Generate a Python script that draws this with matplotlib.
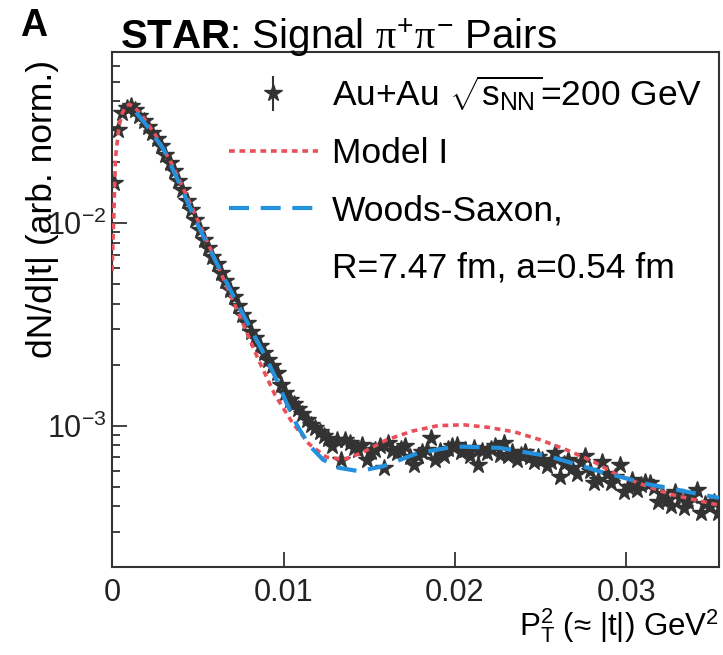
import numpy as np
import matplotlib
matplotlib.use("Agg")
import matplotlib.pyplot as plt
from matplotlib.ticker import FixedLocator, LogLocator, NullFormatter, FuncFormatter
from matplotlib.lines import Line2D

plt.rcParams['font.family'] = ['Liberation Sans', 'DejaVu Sans']
plt.rcParams['mathtext.fontset'] = 'custom'
plt.rcParams['mathtext.rm'] = 'Liberation Sans'
plt.rcParams['mathtext.it'] = 'Liberation Serif'
plt.rcParams['mathtext.bf'] = 'Liberation Sans:bold'

# measured pi+pi- pairs, |t| in GeV^2
t_data = [0.0001, 0.00035, 0.0006, 0.00085, 0.0011, 0.00135, 0.0016, 0.00185, 0.0021, 0.00235,
          0.0026, 0.00285, 0.0031, 0.00335, 0.0036, 0.00385, 0.0041, 0.00435, 0.0046, 0.00485,
          0.0051, 0.00535, 0.0056, 0.00585, 0.0061, 0.00635, 0.0066, 0.00685, 0.0071, 0.00735,
          0.0076, 0.00785, 0.0081, 0.00835, 0.0086, 0.00885, 0.0091, 0.00935, 0.0096, 0.00985,
          0.0101, 0.01035, 0.0106, 0.01085, 0.0111, 0.01135, 0.0116, 0.01185, 0.0121, 0.01235,
          0.0126, 0.01285, 0.0131, 0.01335, 0.0136, 0.01385, 0.0141, 0.01435, 0.0146, 0.01485,
          0.0151, 0.01535, 0.0156, 0.01585, 0.0161, 0.01635, 0.0166, 0.01685, 0.0171, 0.01735,
          0.0176, 0.01785, 0.0181, 0.01835, 0.0186, 0.01885, 0.0191, 0.01935, 0.0196, 0.01985,
          0.0201, 0.02035, 0.0206, 0.02085, 0.0211, 0.02135, 0.0216, 0.02185, 0.0221, 0.02235,
          0.0226, 0.02285, 0.0231, 0.02335, 0.0236, 0.02385, 0.0241, 0.02435, 0.0246, 0.02485,
          0.0251, 0.02535, 0.0256, 0.02585, 0.0261, 0.02635, 0.0266, 0.02685, 0.0271, 0.02735,
          0.0276, 0.02785, 0.0281, 0.02835, 0.0286, 0.02885, 0.0291, 0.02935, 0.0296, 0.02985,
          0.0301, 0.03035, 0.0306, 0.03085, 0.0311, 0.03135, 0.0316, 0.03185, 0.0321, 0.03235,
          0.0326, 0.03285, 0.0331, 0.03335, 0.0336, 0.03385, 0.0341, 0.03435, 0.0346, 0.03485,
          0.0351, 0.03535]
dndt_data = [0.0157, 0.0290, 0.0350, 0.0372, 0.0378, 0.0362, 0.0338, 0.0318, 0.0298, 0.0278,
             0.0260, 0.0240, 0.0218, 0.0198, 0.0180, 0.0162, 0.0145, 0.0129, 0.0116, 0.0104,
             0.0093, 0.0083, 0.0075, 0.0068, 0.0063, 0.0057, 0.0052, 0.0047, 0.0043, 0.0039,
             0.0035, 0.0032, 0.0029, 0.0027, 0.00247, 0.00228, 0.00212, 0.00196, 0.00182, 0.00158,
             0.00145, 0.00134, 0.00128, 0.00121, 0.00114, 0.00107, 0.00101, 0.00097, 0.00093, 0.00089,
             0.00086, 0.00079, 0.00085, 0.00068, 0.00085, 0.00082, 0.00078, 0.00076, 0.00080, 0.00068,
             0.00074, 0.00076, 0.00079, 0.00062, 0.00082, 0.00075, 0.00073, 0.00077, 0.00079, 0.00070,
             0.00064, 0.00071, 0.00074, 0.00076, 0.00087, 0.00068, 0.00075, 0.00071, 0.00077, 0.00079,
             0.00080, 0.00074, 0.00076, 0.00071, 0.00078, 0.00064, 0.00075, 0.00073, 0.00077, 0.00079,
             0.00072, 0.00082, 0.00071, 0.00074, 0.00068, 0.00072, 0.00074, 0.00070, 0.00066, 0.00070,
             0.00068, 0.00063, 0.00066, 0.00073, 0.00056, 0.00065, 0.00068, 0.00062, 0.00058, 0.00066,
             0.00071, 0.00060, 0.00052, 0.00054, 0.00066, 0.00058, 0.00052, 0.00056, 0.00064, 0.00047,
             0.00050, 0.00054, 0.00048, 0.00051, 0.00053, 0.00052, 0.00049, 0.00042, 0.00046, 0.00043,
             0.00040, 0.00047, 0.00044, 0.00039, 0.00042, 0.00045, 0.00048, 0.00037, 0.00041, 0.00040,
             0.00042, 0.00037]

# Model I
t_model = [0.0, 0.0002, 0.0004, 0.0006, 0.0008, 0.001, 0.0013, 0.0018, 0.0025, 0.0035,
           0.0045, 0.0055, 0.0065, 0.0075, 0.0085, 0.0095, 0.0105, 0.0115, 0.0125, 0.0135,
           0.0145, 0.016, 0.0175, 0.019, 0.0205, 0.022, 0.0235, 0.025, 0.0265, 0.028,
           0.0295, 0.031, 0.0325, 0.034, 0.0354]
dndt_model = [0.0058, 0.021, 0.030, 0.035, 0.0378, 0.0386, 0.0375, 0.0335, 0.0275, 0.0195,
              0.0128, 0.0083, 0.0053, 0.0034, 0.00215, 0.00142, 0.00104, 0.00081, 0.00070, 0.00068,
              0.00073, 0.00085, 0.00094, 0.00100, 0.00101, 0.00098, 0.00093, 0.00085, 0.00076, 0.00067,
              0.00057, 0.00051, 0.00046, 0.00043, 0.000405]

# Woods-Saxon fit
t_ws = [0.0014, 0.002, 0.003, 0.004, 0.005, 0.006, 0.007, 0.008, 0.009, 0.0096,
        0.0102, 0.0108, 0.0115, 0.0123, 0.0132, 0.0144, 0.0158, 0.0178, 0.020, 0.0226,
        0.0255, 0.0284, 0.0313, 0.0354]
dndt_ws = [0.0352, 0.0305, 0.0232, 0.0152, 0.0098, 0.0066, 0.0045, 0.0031, 0.00215, 0.00168,
           0.00128, 0.00100, 0.00080, 0.00068, 0.00062, 0.000596, 0.00063, 0.00073, 0.00079, 0.000777,
           0.000706, 0.000596, 0.000513, 0.00044]

fig = plt.figure(figsize=(7.23, 6.55), dpi=100)
ax = fig.add_axes([0.155, 0.134, 0.8395, 0.7866])

red = '#e8505b'
blue = '#2490dc'
grey = '#333333'

ax.plot(t_model, dndt_model, color=red, lw=2.6, dashes=(1.6, 1.3), zorder=3)
ax.plot(t_data, dndt_data, ls='none', marker='*', ms=13, color=grey, zorder=2)
ax.plot(t_ws, dndt_ws, color=blue, lw=3, dashes=(4.8, 2.8), zorder=4)

ax.set_yscale('log')
ax.set_xlim(0, 0.0354)
ax.set_ylim(2e-4, 0.07)

ax.xaxis.set_major_locator(FixedLocator([0, 0.01, 0.02, 0.03]))
ax.xaxis.set_major_formatter(FuncFormatter(lambda v, p: '0' if v == 0 else '%.2f' % v))
ax.yaxis.set_major_locator(LogLocator(base=10))
ax.yaxis.set_minor_locator(LogLocator(base=10, subs=np.arange(2, 10)))
ax.yaxis.set_minor_formatter(NullFormatter())

ax.tick_params(which='both', direction='in', top=False, right=False, width=1.2, labelsize=22, colors='#222222')
ax.tick_params(which='major', length=11)
ax.tick_params(axis='x', which='major', pad=8)
ax.tick_params(axis='y', which='major', pad=4)
ax.tick_params(which='minor', length=6)
for s in ax.spines.values():
    s.set_linewidth(1.5)
    s.set_color('#333333')

ax.set_ylabel('dN/d|t| (arb. norm.)', fontsize=25.5, loc='top')
ax.yaxis.set_label_coords(-0.088, 0.985)
ax.set_xlabel(r'$\mathrm{P}_{\mathrm{T}}^{2}$ (≈ |t|) GeV$^{2}$', fontsize=22.5, loc='right')
ax.xaxis.set_label_coords(1.0, -0.075)

fig.text(120 / 723, 1 - 49 / 655, r'$\mathbf{STAR}$: Signal $\pi^{+}\pi^{-}$ Pairs', fontsize=29, va='baseline')
fig.text(20 / 723, 1 - 36 / 655, 'A', fontsize=27, fontweight='bold', va='baseline')

h_data = ax.errorbar([np.nan], [np.nan], yerr=[1], fmt='*', ms=13, color=grey, elinewidth=1.5)
h_model = Line2D([], [], color=red, lw=2.6, dashes=(1.6, 1.3))
h_ws = Line2D([], [], color=blue, lw=3, dashes=(4.8, 2.8))
h_blank = Line2D([], [], color='none')
ax.legend([h_data, h_model, h_ws, h_blank],
          [r'Au+Au $\sqrt{\mathrm{s}_{\mathrm{NN}}}$=200 GeV', 'Model I', 'Woods-Saxon,', 'R=7.47 fm, a=0.54 fm'],
          loc='upper right', bbox_to_anchor=(1.0, 0.991), frameon=False, fontsize=25.5,
          handlelength=2.5, labelspacing=0.68, borderaxespad=0.08, handletextpad=0.4)

fig.savefig('out.png', dpi=100)
